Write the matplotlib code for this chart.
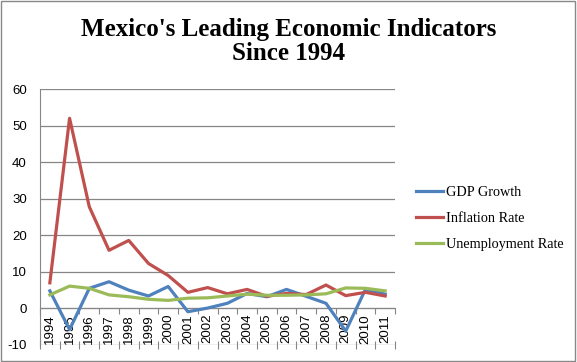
import matplotlib.pyplot as plt
from matplotlib.patches import Rectangle

years = [str(y) for y in range(1994, 2012)]
gdp_growth = [4.8, -5.8, 5.5, 7.3, 5.0, 3.4, 6.0, -0.9, 0.1, 1.4, 4.1, 3.2, 5.2, 3.3, 1.4, -6.2, 5.2, 3.9]
inflation = [7.0, 52.0, 27.8, 15.9, 18.6, 12.3, 9.0, 4.4, 5.7, 4.0, 5.2, 3.3, 4.1, 3.8, 6.4, 3.5, 4.4, 3.4]
unemployment = [3.7, 6.1, 5.5, 3.7, 3.2, 2.5, 2.2, 2.8, 2.9, 3.4, 3.9, 3.6, 3.6, 3.7, 4.0, 5.6, 5.5, 4.8]

fig = plt.figure(figsize=(5.77, 3.62), dpi=100)
ax = fig.add_axes([0.0693, 0.047, 0.6153, 0.707])

x = range(len(years))
ax.plot(x, gdp_growth, color='#4F81BD', lw=2.3, label='GDP Growth', zorder=3)
ax.plot(x, inflation, color='#C0504D', lw=2.3, label='Inflation Rate', zorder=3)
ax.plot(x, unemployment, color='#9BBB59', lw=2.3, label='Unemployment Rate', zorder=3)

ax.set_xlim(-0.5, len(years) - 0.5)
ax.set_ylim(-10, 60)
ax.set_yticks(range(-10, 61, 10))
ax.set_yticklabels([str(v) for v in range(-10, 61, 10)], family='Liberation Sans', fontsize=9.5)
ax.yaxis.grid(True, color='#868686', lw=0.9)
ax.set_axisbelow(True)
ax.tick_params(axis='y', length=0, pad=9.5)

# category axis sits on zero, labels below it
ax.spines['bottom'].set_position(('data', 0))
ax.spines['bottom'].set_color('#868686')
ax.spines['left'].set_color('#868686')
ax.spines['top'].set_visible(False)
ax.spines['right'].set_visible(False)
bounds = [i - 0.5 for i in range(len(years) + 1)]
ax.set_xticks(bounds)
ax.set_xticklabels([])
ax.tick_params(axis='x', which='major', length=4, color='#868686', direction='out')
ax.set_xticks(list(x), minor=True)
ax.set_xticklabels(years, minor=True, rotation=90, family='Liberation Sans', fontsize=9.5)
ax.tick_params(axis='x', which='minor', length=0, pad=4)

# tick marks along the bottom edge too
sec = ax.secondary_xaxis(0.0)
sec.set_xticks(bounds)
sec.set_xticklabels([])
sec.tick_params(length=6, direction='inout', color='#868686')
sec.spines['bottom'].set_visible(False)

fig.text(0.5, 0.95, "Mexico's Leading Economic Indicators\nSince 1994",
         ha='center', va='top', fontsize=18, fontweight='bold',
         family='Liberation Serif', linespacing=1.05)

fig.legend(loc='upper left', bbox_to_anchor=(0.698, 0.522), frameon=False,
           prop={'family': 'Liberation Serif', 'size': 10.3}, handlelength=1.9,
           handletextpad=0.2, labelspacing=0.9)

fig.patches.append(Rectangle((0.002, 0.003), 0.995, 0.994, transform=fig.transFigure,
                             fill=False, edgecolor='#888888', lw=1))

fig.savefig('out.png', dpi=100)
